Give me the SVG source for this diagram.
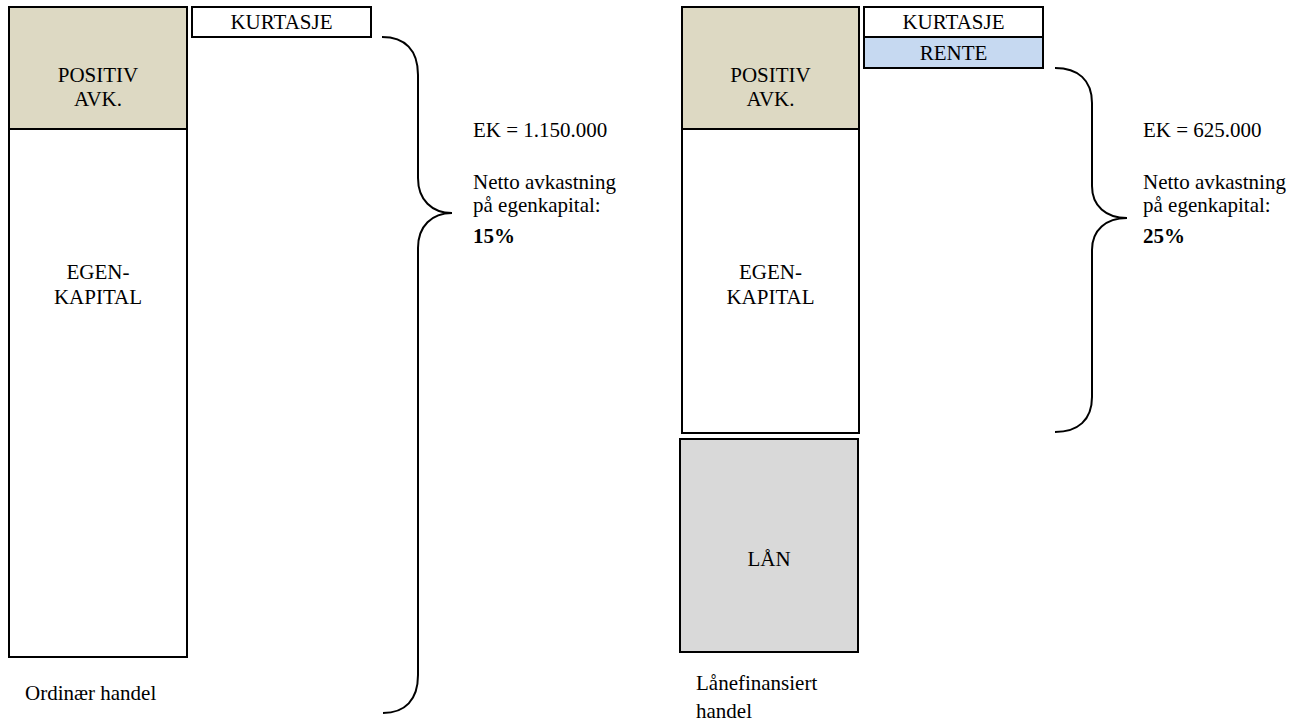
<svg xmlns="http://www.w3.org/2000/svg" width="1308" height="727" viewBox="0 0 1308 727">
<style>
.box{stroke:#000;stroke-width:2}
text{font-family:'Liberation Serif','DejaVu Serif',serif;font-size:21px;fill:#000}
.c{text-anchor:middle}
.b{font-weight:bold}
.brace{fill:none;stroke:#000;stroke-width:2}
</style>
<rect width="1308" height="727" fill="#fff"/>
<g id="left-positive">
<rect class="box" x="9" y="7" width="178" height="122" fill="#ddd9c3"/>
<text class="c" x="98" y="82" font-family="Liberation Serif, serif">POSITIV</text>
<text class="c" x="98" y="106" font-family="Liberation Serif, serif">AVK.</text>
</g>
<g id="left-egenkapital">
<rect class="box" x="9" y="129" width="178" height="528" fill="#fff"/>
<text class="c" x="98" y="279" font-family="Liberation Serif, serif">EGEN-</text>
<text class="c" x="98" y="304" font-family="Liberation Serif, serif">KAPITAL</text>
</g>
<g id="left-kurtasje">
<rect class="box" x="192" y="7" width="179" height="30" fill="#fff"/>
<text class="c" x="281.5" y="29" font-family="Liberation Serif, serif">KURTASJE</text>
</g>
<g id="left-info" font-family="Liberation Serif, serif">
<text x="473" y="137" font-family="Liberation Serif, serif">EK = 1.150.000</text>
<text x="473" y="189" font-family="Liberation Serif, serif">Netto avkastning</text>
<text x="473" y="212" font-family="Liberation Serif, serif">på egenkapital:</text>
<text class="b" x="473" y="243" font-family="Liberation Serif, serif">15%</text>
</g>
<g id="left-caption">
<text x="25" y="700" font-family="Liberation Serif, serif">Ordinær handel</text>
</g>
<g id="right-positive">
<rect class="box" x="682" y="7" width="177" height="122" fill="#ddd9c3"/>
<text class="c" x="770.5" y="82" font-family="Liberation Serif, serif">POSITIV</text>
<text class="c" x="770.5" y="106" font-family="Liberation Serif, serif">AVK.</text>
</g>
<g id="right-egenkapital">
<rect class="box" x="682" y="129" width="177" height="304" fill="#fff"/>
<text class="c" x="770.5" y="279" font-family="Liberation Serif, serif">EGEN-</text>
<text class="c" x="770.5" y="304" font-family="Liberation Serif, serif">KAPITAL</text>
</g>
<g id="right-laan">
<rect class="box" x="680" y="439" width="178" height="213" fill="#d9d9d9"/>
<text class="c" x="769" y="566" font-family="Liberation Serif, serif">LÅN</text>
</g>
<g id="right-kurtasje">
<rect class="box" x="864" y="7" width="179" height="30" fill="#fff"/>
<text class="c" x="953.5" y="29" font-family="Liberation Serif, serif">KURTASJE</text>
</g>
<g id="right-rente">
<rect class="box" x="864" y="37" width="179" height="31" fill="#c6d9f1"/>
<text class="c" x="953.5" y="60" font-family="Liberation Serif, serif">RENTE</text>
</g>
<g id="right-info">
<text x="1143" y="137" font-family="Liberation Serif, serif">EK = 625.000</text>
<text x="1143" y="189" font-family="Liberation Serif, serif">Netto avkastning</text>
<text x="1143" y="212" font-family="Liberation Serif, serif">på egenkapital:</text>
<text class="b" x="1143" y="243" font-family="Liberation Serif, serif">25%</text>
</g>
<g id="right-caption">
<text x="696" y="690" font-family="Liberation Serif, serif">Lånefinansiert</text>
<text x="696" y="718" font-family="Liberation Serif, serif">handel</text>
</g>
<g id="connectors">
<path class="brace" d="M382,37 C405,37 418,50 418,75 L418,178 C418,200 432,213 452,213 C432,213 418,226 418,248 L418,675 C418,700 405,713 383,713"/>
<path class="brace" d="M1055,68 C1078,68 1092,80 1092,103 L1092,186 C1092,206 1106,218 1127,218 C1106,218 1092,230 1092,250 L1092,397 C1092,420 1078,432 1055,432"/>
</g>
</svg>
